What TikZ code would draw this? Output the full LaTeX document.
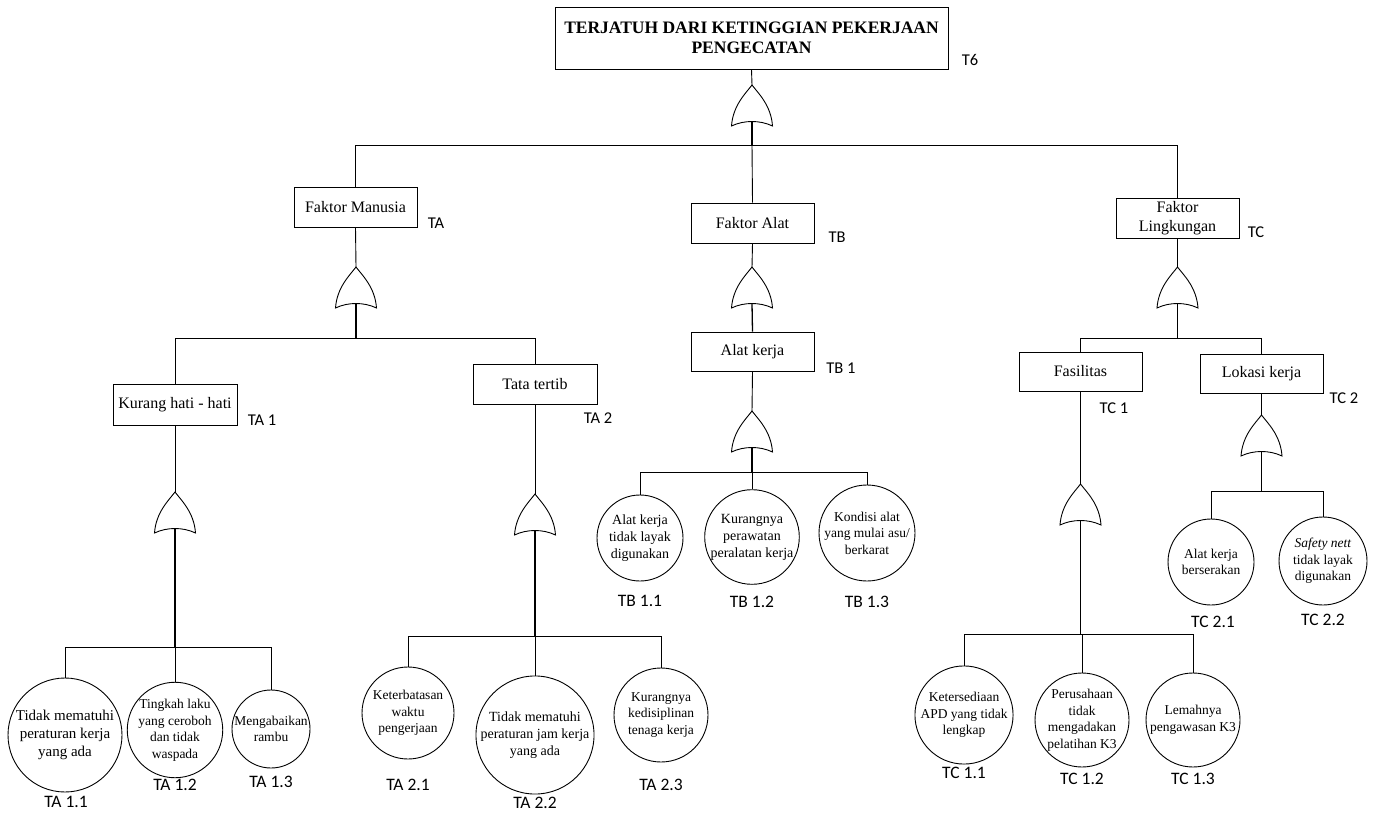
\documentclass[tikz,border=0pt]{standalone}
\usepackage{fontspec}
\setmainfont{Liberation Serif}
\newfontfamily\tagfont{Carlito}
\begin{document}
\begin{tikzpicture}[x=1pt,y=-1pt,
  wire/.style={line width=0.9pt},
  inwire/.style={line width=1.3pt},
  evbox/.style={draw, line width=0.9pt, minimum width=123pt, minimum height=40pt,
    inner sep=2pt, align=center, font=\fontsize{16}{19}\selectfont},
  basic/.style={draw, circle, line width=0.9pt, inner sep=0pt, align=center,
    font=\fontsize{13.5}{16.5}\selectfont},
  tag/.style={inner sep=0pt, font=\tagfont\fontsize{16.5}{19}\selectfont},
  ctag/.style={inner sep=0pt, font=\tagfont\fontsize{17.5}{20}\selectfont},
  orgate/.pic={
    \draw[line width=0.9pt] (-20.5,41) .. controls (-19,20) and (-6,8) .. (0,0)
      .. controls (6,8) and (19,20) .. (20.5,41)
      .. controls (8,35) and (-8,35) .. (-20.5,41) -- cycle;
    \coordinate (-top) at (0,0);
    \coordinate (-in) at (0,36.5);
  }]
\useasboundingbox (0,0) rectangle (1376,813);
\fill[white] (0,0) rectangle (1376,813);

% top event
\node[draw, line width=0.9pt, minimum width=393pt, minimum height=62pt, align=center,
  font=\bfseries\fontsize{17.5}{20}\selectfont] (top) at (751.5,38)
  {TERJATUH DARI KETINGGIAN PEKERJAAN\\PENGECATAN};
\node[tag] (tT6) at (970,60) {T6};
\pic (g0) at (752,85) {orgate};
\coordinate (busT) at (752,145);

% second level
\node[evbox] (fm) at (355.5,207) {Faktor Manusia};
\node[tag] (tTA) at (436,223) {TA};
\node[evbox] (fa) at (752.5,223) {Faktor Alat};
\node[tag] (tTB) at (837,237) {TB};
\node[evbox] (fl) at (1177.5,218) {Faktor\\Lingkungan};
\node[tag] (tTC) at (1256,232) {TC};

\draw[wire] (top.south) -- (g0-top);
\draw[inwire] (g0-in) -- (busT);
\draw[wire] (busT) -| (fm.north);
\draw[wire] (busT) -| (fl.north);
\draw[wire] (busT) -- (fa.north);

% ---------- Faktor Manusia ----------
\pic (gA) at (356,267) {orgate};
\coordinate (busA) at (356,338);
\draw[wire] (fm.south) -- (gA-top);
\draw[inwire] (gA-in) -- (busA);

\node[evbox, minimum width=124pt, minimum height=41pt] (khh) at (175,404.5) {Kurang hati - hati};
\node[tag] (tTA1) at (262,420) {TA 1};
\node[evbox, minimum width=124pt] (tt) at (535,384) {Tata tertib};
\node[tag] (tTA2) at (598,418) {TA 2};
\draw[wire] (busA) -| (khh.north);
\draw[wire] (busA) -| (tt.north);

\pic (gA1) at (175,492) {orgate};
\coordinate (busA1) at (175,647);
\draw[wire] (khh.south) -- (gA1-top);
\draw[inwire] (gA1-in) -- (busA1);

\node[basic, minimum size=114pt, font=\fontsize{15}{18}\selectfont] (ta11) at (65,735)
  {Tidak mematuhi\\peraturan kerja\\yang ada};
\node[ctag] (lta11) at (66,802) {TA 1.1};
\node[basic, minimum size=94pt] (ta12) at (175,730)
  {Tingkah laku\\yang ceroboh\\dan tidak\\waspada};
\node[ctag] (lta12) at (175,785) {TA 1.2};
\node[basic, minimum size=78pt] (ta13) at (271,729) {Mengabaikan\\rambu};
\node[ctag] (lta13) at (271,782) {TA 1.3};
\draw[wire] (busA1) -| (ta11.north);
\draw[wire] (busA1) -- (ta12.north);
\draw[wire] (busA1) -| (ta13.north);

\pic (gA2) at (535,494) {orgate};
\coordinate (busA2) at (535,636);
\draw[wire] (tt.south) -- (gA2-top);
\draw[inwire] (gA2-in) -- (busA2);

\node[basic, minimum size=92pt] (ta21) at (408,713)
  {Keterbatasan\\waktu\\pengerjaan};
\node[ctag] (lta21) at (408,785) {TA 2.1};
\node[basic, minimum size=114pt, font=\fontsize{14}{17}\selectfont] (ta22) at (535,735)
  {Tidak mematuhi\\peraturan jam kerja\\yang ada};
\node[ctag] (lta22) at (535,803) {TA 2.2};
\node[basic, minimum size=94pt] (ta23) at (661,715)
  {Kurangnya\\kedisiplinan\\tenaga kerja};
\node[ctag] (lta23) at (661,785) {TA 2.3};
\draw[wire] (busA2) -| (ta21.north);
\draw[wire] (busA2) -- (ta22.north);
\draw[wire] (busA2) -| (ta23.north);

% ---------- Faktor Alat ----------
\pic (gB) at (752,267) {orgate};
\draw[wire] (fa.south) -- (gB-top);
\node[evbox, minimum height=39pt] (ak) at (752.5,351.5) {Alat kerja};
\node[tag] (tTB1) at (841,368) {TB 1};
\draw[inwire] (gB-in) -- (ak.north);

\pic (gB1) at (752,411) {orgate};
\coordinate (busB1) at (752,472);
\draw[wire] (ak.south) -- (gB1-top);
\draw[inwire] (gB1-in) -- (busB1);

\node[basic, minimum size=86pt, font=\fontsize{14}{17}\selectfont] (tb11) at (640,538)
  {Alat kerja\\tidak layak\\digunakan};
\node[ctag] (ltb11) at (640,601) {TB 1.1};
\node[basic, minimum size=94pt, font=\fontsize{14}{17}\selectfont] (tb12) at (752,537)
  {Kurangnya\\perawatan\\peralatan kerja};
\node[ctag] (ltb12) at (752,602) {TB 1.2};
\node[basic, minimum size=96pt] (tb13) at (867,533)
  {Kondisi alat\\yang mulai asu/\\berkarat};
\node[ctag] (ltb13) at (867,602) {TB 1.3};
\draw[wire] (busB1) -| (tb11.north);
\draw[wire] (busB1) -- (tb12.north);
\draw[wire] (busB1) -| (tb13.north);

% ---------- Faktor Lingkungan ----------
\pic (gC) at (1177.5,267) {orgate};
\coordinate (busC) at (1177.5,338);
\draw[wire] (fl.south) -- (gC-top);
\draw[inwire] (gC-in) -- (busC);

\node[evbox, minimum height=39pt] (fas) at (1080.5,371.5) {Fasilitas};
\node[tag] (tTC1) at (1114,408) {TC 1};
\node[evbox, minimum height=39pt] (lok) at (1261.5,373.5) {Lokasi kerja};
\node[tag] (tTC2) at (1344,398) {TC 2};
\draw[wire] (busC) -| (fas.north);
\draw[wire] (busC) -| (lok.north);

\pic (gC1) at (1080.5,484) {orgate};
\coordinate (busC1) at (1080.5,634);
\draw[wire] (fas.south) -- (gC1-top);
\draw[inwire] (gC1-in) -- (busC1);

\node[basic, minimum size=92pt] (tc11) at (964,715)
  {Ketersediaan\\APD yang tidak\\lengkap};
\node[ctag] (ltc11) at (964,773) {TC 1.1};
\node[basic, minimum size=94pt] (tc12) at (1082,720)
  {Perusahaan\\tidak\\mengadakan\\pelatihan K3};
\node[ctag] (ltc12) at (1082,779) {TC 1.2};
\node[basic, minimum size=94pt] (tc13) at (1193,720)
  {Lemahnya\\pengawasan K3};
\node[ctag] (ltc13) at (1193,779) {TC 1.3};
\draw[wire] (busC1) -| (tc11.north);
\draw[wire] (busC1) -| (tc12.north);
\draw[wire] (busC1) -| (tc13.north);

\pic (gC2) at (1261.5,415) {orgate};
\coordinate (busC2) at (1261.5,491);
\draw[wire] (lok.south) -- (gC2-top);
\draw[inwire] (gC2-in) -- (busC2);

\node[basic, minimum size=86pt] (tc21) at (1211,562)
  {Alat kerja\\berserakan};
\node[ctag] (ltc21) at (1213,622) {TC 2.1};
\node[basic, minimum size=88pt] (tc22) at (1323,561)
  {\textit{Safety nett}\\tidak layak\\digunakan};
\node[ctag] (ltc22) at (1323,620) {TC 2.2};
\draw[wire] (busC2) -| (tc21.north);
\draw[wire] (busC2) -| (tc22.north);
\end{tikzpicture}
\end{document}
